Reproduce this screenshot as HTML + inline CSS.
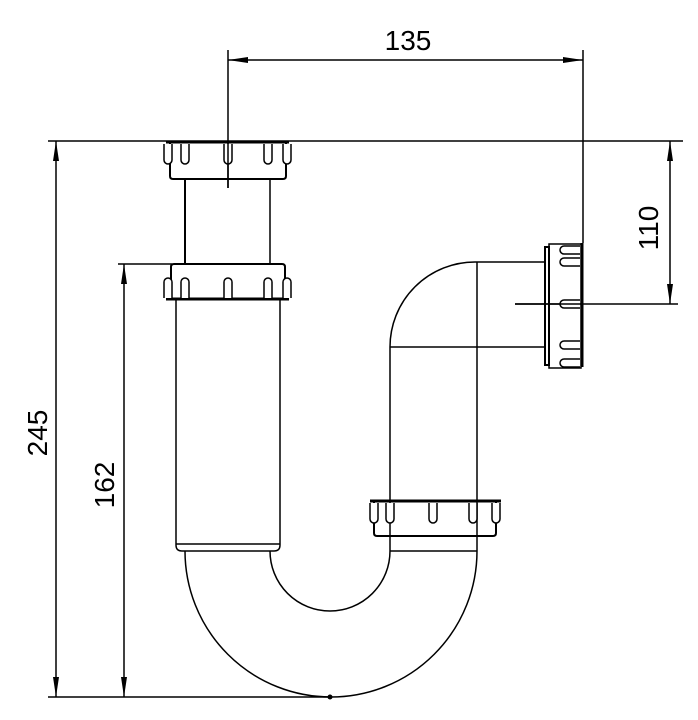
<!DOCTYPE html>
<html><head><meta charset="utf-8"><style>body{margin:0;background:#fff}svg{display:block}</style></head><body>
<svg width="698" height="720" viewBox="0 0 698 720" xmlns="http://www.w3.org/2000/svg" font-family="Liberation Sans, sans-serif">
<defs>
<marker id="a" viewBox="-20 0 20 6" refX="0" refY="3" markerWidth="20" markerHeight="6" markerUnits="userSpaceOnUse" orient="auto-start-reverse"><path d="M0,3 L-20,0 L-20,6 Z" fill="#000"/></marker>
<g id="tab"><path d="M-4,0 V16 A4,4 0 0 0 4,16 V0" fill="#fff" stroke="#000" stroke-width="1.5"/></g>
</defs>
<g stroke="#000" fill="none" stroke-width="1.5">
<line x1="48" y1="141" x2="683" y2="141"/>
<line x1="48" y1="697" x2="330" y2="697"/>
<line x1="118" y1="264" x2="172" y2="264"/>
<line x1="515" y1="304" x2="678" y2="304"/>
<line x1="228" y1="50" x2="228" y2="188"/>
<line x1="583" y1="50" x2="583" y2="243"/>
<line x1="228" y1="60" x2="583" y2="60" marker-start="url(#a)" marker-end="url(#a)"/>
<line x1="56" y1="141" x2="56" y2="697" marker-start="url(#a)" marker-end="url(#a)"/>
<line x1="124" y1="264" x2="124" y2="697" marker-start="url(#a)" marker-end="url(#a)"/>
<line x1="670" y1="141" x2="670" y2="304" marker-start="url(#a)" marker-end="url(#a)"/>
<line x1="185" y1="178" x2="185" y2="264" stroke-width="2"/>
<line x1="270" y1="178" x2="270" y2="264"/>
<line x1="166" y1="142" x2="289" y2="142" stroke-width="3"/>
<path d="M170,142 V176 Q170,179 173,179 H283 Q286,179 286,176 V142" stroke-width="2"/>
<path d="M171,300 V267 Q171,264 174,264 H282 Q285,264 285,267 V300" stroke-width="2"/>
<line x1="166" y1="299" x2="289" y2="299" stroke-width="3"/>
<path d="M176,300 V545 Q176,551 182,551 H274 Q280,551 280,545 V300"/>
<line x1="176" y1="544" x2="280" y2="544"/>
<path d="M185,551 A146,146 0 0 0 477,551"/>
<path d="M270,551 A60,60 0 0 0 390,551"/>
<line x1="390" y1="347" x2="390" y2="551"/>
<line x1="477" y1="262" x2="477" y2="551"/>
<line x1="390" y1="551" x2="477" y2="551"/>
<path d="M390,347 A85,85 0 0 1 475,262 H545"/>
<line x1="390" y1="347" x2="545" y2="347"/>
<line x1="370" y1="501" x2="501" y2="501" stroke-width="3"/>
<path d="M374,501 V533 Q374,536 377,536 H493 Q496,536 496,533 V501" stroke-width="2"/>
<path d="M545,247 H549 V365 H545 Z" stroke-width="2"/>
<rect x="549" y="244" width="32" height="124"/>
<line x1="582" y1="243" x2="582" y2="367" stroke-width="3"/>
</g>
<g>
<use href="#tab" x="185" y="144"/><use href="#tab" x="228" y="144"/><use href="#tab" x="268" y="144"/>
<use href="#tab" x="168" y="144"/><use href="#tab" x="287" y="144"/>
<g transform="translate(0,565) scale(1,-1)">
<use href="#tab" x="185" y="267"/><use href="#tab" x="228" y="267"/><use href="#tab" x="268" y="267"/>
<use href="#tab" x="168" y="267"/><use href="#tab" x="287" y="267"/>
</g>
<use href="#tab" x="390" y="503"/><use href="#tab" x="433" y="503"/><use href="#tab" x="473" y="503"/>
<use href="#tab" x="374" y="503"/><use href="#tab" x="496" y="503"/>
<g transform="rotate(90 580 250)"><use href="#tab" x="580" y="250"/></g>
<g transform="rotate(90 580 262)"><use href="#tab" x="580" y="262"/></g>
<g transform="rotate(90 580 304)"><use href="#tab" x="580" y="304"/></g>
<g transform="rotate(90 580 345)"><use href="#tab" x="580" y="345"/></g>
<g transform="rotate(90 580 363)"><use href="#tab" x="580" y="363"/></g>
</g>
<line x1="228" y1="142" x2="228" y2="188" stroke="#000" stroke-width="1.5"/>
<line x1="515" y1="304" x2="583" y2="304" stroke="#000" stroke-width="1.5"/>
<circle cx="330" cy="697" r="2.5" fill="#000"/>
<g font-size="28" fill="#000" text-anchor="middle">
<text x="408" y="50">135</text>
<text transform="translate(47,433) rotate(-90)">245</text>
<text transform="translate(114,485) rotate(-90)">162</text>
<text transform="translate(658,228) rotate(-90)">110</text>
</g>
</svg>
</body></html>
